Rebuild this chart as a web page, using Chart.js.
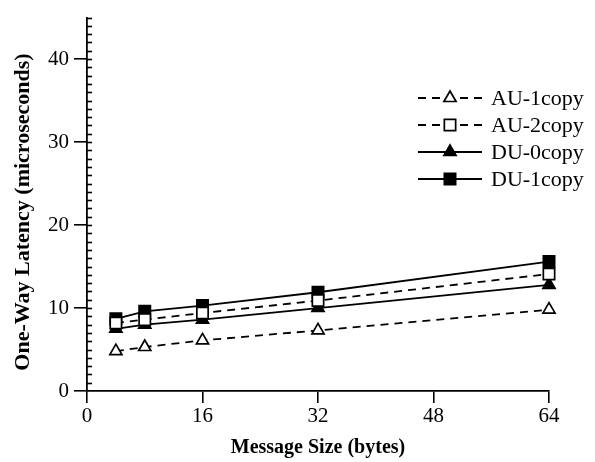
<!DOCTYPE html>
<html>
<head>
<meta charset="utf-8">
<script src="https://cdn.jsdelivr.net/npm/chart.js@4/dist/chart.umd.min.js"></script>
<style>
  html, body { margin: 0; padding: 0; background: #fff; }
</style>
</head>
<body>
<canvas id="latencyChart" width="595" height="462"></canvas>
<script>
// message sizes (bytes) and one-way latency (microseconds)
var msgSizes = [4, 8, 16, 32, 64];
var au1copy = [4.8, 5.3, 6.1, 7.3, 9.8];
var au2copy = [8.2, 8.6, 9.4, 10.9, 14.1];
var du0copy = [7.5, 8.0, 8.6, 10.0, 12.8];
var du1copy = [8.7, 9.6, 10.3, 11.9, 15.6];
var xTickValues = [0, 16, 32, 48, 64];
var yTickValues = [0, 10, 20, 30, 40];
var yTitle = 'One-Way Latency (microseconds)';

var serif = '"Liberation Serif", "Times New Roman", serif';

function toPoints(ys) {
    return msgSizes.map(function (x, i) { return { x: x, y: ys[i] }; });
}

function series(label, ys, style, filled, dashed, radius) {
    return {
        label: label,
        data: toPoints(ys),
        borderColor: '#000',
        borderWidth: 1.8,
        borderDash: dashed ? [8, 6] : [],
        pointStyle: style,
        pointRadius: radius,
        pointBackgroundColor: filled ? '#000' : '#fff',
        pointBorderColor: '#000',
        pointBorderWidth: 1.7,
        tension: 0,
        clip: false
    };
}

//-----------------------
//- legend drawn inside the plot
//-----------------------
var insideLegend = {
    id: 'insideLegend',
    afterDraw: function (chart) {
        var ctx = chart.ctx;
        chart.data.datasets.forEach(function (ds, i) {
            var y = 98 + i * 27;
            ctx.save();
            ctx.strokeStyle = '#000';
            ctx.lineWidth = ds.borderWidth;
            ctx.setLineDash(ds.borderDash);
            ctx.beginPath();
            ctx.moveTo(418, y);
            ctx.lineTo(482, y);
            ctx.stroke();
            ctx.setLineDash([]);
            ctx.fillStyle = ds.pointBackgroundColor;
            ctx.lineWidth = ds.pointBorderWidth;
            Chart.helpers.drawPoint(ctx, {
                pointStyle: ds.pointStyle,
                radius: ds.pointRadius,
                borderWidth: ds.pointBorderWidth,
                rotation: 0
            }, 450, y);
            ctx.fillStyle = '#000';
            ctx.font = '22px ' + serif;
            ctx.textBaseline = 'middle';
            ctx.textAlign = 'left';
            ctx.fillText(ds.label, 491, y + 1);
            ctx.restore();
        });
    }
};

// small inward ticks on the y axis, one per microsecond, and the axis title
var yAxisExtras = {
    id: 'yAxisExtras',
    afterDraw: function (chart) {
        var ctx = chart.ctx;
        var yScale = chart.scales.y;
        var left = chart.chartArea.left;
        ctx.save();
        ctx.strokeStyle = '#000';
        ctx.lineWidth = 1.6;
        for (var v = 1; v <= yScale.max; v++) {
            var py = Math.round(yScale.getPixelForValue(v)) + 0.5;
            ctx.beginPath();
            ctx.moveTo(left, py);
            ctx.lineTo(left + 5, py);
            ctx.stroke();
        }
        ctx.translate(23, 212);
        ctx.rotate(-Math.PI / 2);
        ctx.fillStyle = '#000';
        ctx.font = 'bold 22px ' + serif;
        ctx.textAlign = 'center';
        ctx.textBaseline = 'middle';
        ctx.fillText(yTitle, 0, 0);
        ctx.restore();
    }
};

var chart = new Chart(document.getElementById('latencyChart'), {
    type: 'line',
    data: {
        datasets: [
            series('AU-1copy', au1copy, 'triangle', false, true, 7),
            series('AU-2copy', au2copy, 'rect', false, true, 8),
            series('DU-0copy', du0copy, 'triangle', true, false, 7),
            series('DU-1copy', du1copy, 'rect', true, false, 8)
        ]
    },
    options: {
        responsive: false,
        animation: false,
        layout: { padding: { top: 12, right: 46, left: 0, bottom: 0 } },
        plugins: {
            legend: { display: false },
            tooltip: { enabled: false }
        },
        scales: {
            x: {
                type: 'linear',
                min: 0,
                max: 64,
                afterBuildTicks: function (scale) {
                    scale.ticks = xTickValues.map(function (v) { return { value: v }; });
                },
                afterFit: function (scale) { scale.height = 71; },
                grid: { drawOnChartArea: false, color: '#000', lineWidth: 1.6, tickLength: 12 },
                border: { color: '#000', width: 1.8 },
                ticks: { color: '#000', font: { family: serif, size: 21 }, padding: 1, maxRotation: 0 },
                title: {
                    display: true,
                    text: 'Message Size (bytes)',
                    color: '#000',
                    font: { family: serif, size: 20, weight: 'bold' },
                    padding: { top: 0, bottom: 2 }
                }
            },
            y: {
                type: 'linear',
                min: 0,
                max: 45,
                afterBuildTicks: function (scale) {
                    scale.ticks = yTickValues.map(function (v) { return { value: v }; });
                },
                afterFit: function (scale) { scale.width = 87; },
                grid: { drawOnChartArea: false, color: '#000', lineWidth: 1.6, tickLength: 13 },
                border: { color: '#000', width: 1.8 },
                ticks: { color: '#000', font: { family: serif, size: 21 }, padding: 5 }
            }
        }
    },
    plugins: [yAxisExtras, insideLegend]
});
</script>
</body>
</html>
